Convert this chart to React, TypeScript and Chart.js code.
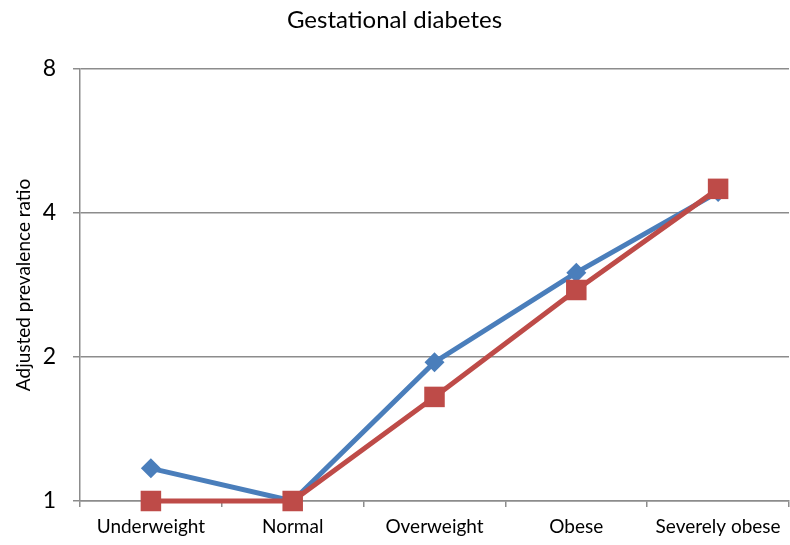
import React, { useEffect, useRef } from "react";
import { Chart, registerables } from "chart.js";

Chart.register(...registerables);

const categories = ["Underweight", "Normal", "Overweight", "Obese", "Severely obese"];
const seriesBlue = [1.17, 1.0, 1.95, 3.0, 4.42];
const seriesRed = [1.0, 1.0, 1.65, 2.76, 4.49];
const yTicks = [1, 2, 4, 8];

const FONT = "Lato, 'Open Sans', sans-serif";
const GRID = "#8c8c8c";

export default function App() {
  const ref = useRef<HTMLCanvasElement | null>(null);
  useEffect(() => {
    if (!ref.current) return;
    const chart = new Chart(ref.current, {
      type: "line",
      data: {
        labels: categories,
        datasets: [
          {
            label: "Series 1",
            data: seriesBlue,
            borderColor: "#4A7EBB",
            backgroundColor: "#4A7EBB",
            borderWidth: 5,
            pointStyle: "rectRot",
            pointRadius: 10,
            pointBorderWidth: 0,
            clip: false,
            order: 1,
          },
          {
            label: "Series 2",
            data: seriesRed,
            borderColor: "#BE4B48",
            backgroundColor: "#BE4B48",
            borderWidth: 5,
            pointStyle: "rect",
            pointRadius: 14.5,
            pointBorderWidth: 0,
            clip: false,
            order: 0,
          },
        ],
      },
      options: {
        responsive: false,
        animation: false,
        layout: { autoPadding: false, padding: { left: 0, right: 1, top: 0, bottom: 0 } },
        plugins: {
          legend: { display: false },
          tooltip: { enabled: false },
          title: {
            display: true,
            text: "Gestational diabetes",
            color: "#000",
            font: { family: FONT, size: 24, weight: "normal" },
            padding: { top: 6, bottom: 34 },
          },
        },
        scales: {
          x: {
            type: "category",
            offset: true,
            grid: {
              offset: true,
              drawOnChartArea: false,
              drawTicks: true,
              tickLength: 6,
              color: GRID,
              lineWidth: 1.5,
            },
            border: { color: GRID, width: 1.5 },
            ticks: {
              color: "#000",
              font: { family: FONT, size: 19 },
              padding: 8,
              maxRotation: 0,
              autoSkip: false,
            },
            afterFit: (s: any) => {
              s.height = 44;
              s.paddingLeft = 0;
              s.paddingRight = 0;
            },
          },
          y: {
            type: "logarithmic",
            min: 1,
            max: 8,
            afterBuildTicks: (s: any) => {
              s.ticks = yTicks.map((v) => ({ value: v }));
            },
            grid: {
              color: GRID,
              lineWidth: 1.5,
              drawTicks: true,
              tickLength: 7,
            },
            border: { color: GRID, width: 1.5 },
            ticks: {
              color: "#000",
              font: { family: FONT, size: 23 },
              padding: 17,
              callback: (v: any) => String(v),
            },
            title: {
              display: true,
              text: "Adjusted prevalence ratio",
              color: "#000",
              font: { family: FONT, size: 19 },
              padding: { top: 12, bottom: 0 },
            },
            afterFit: (s: any) => {
              s.width = 80;
              s.paddingTop = 0;
              s.paddingBottom = 0;
            },
          },
        },
      },
    });
    return () => chart.destroy();
  }, []);
  return (
    <div style={{ position: "fixed", left: 0, top: 0, width: 790, height: 545, background: "#fff" }}>
      <canvas ref={ref} width={790} height={545} />
    </div>
  );
}
